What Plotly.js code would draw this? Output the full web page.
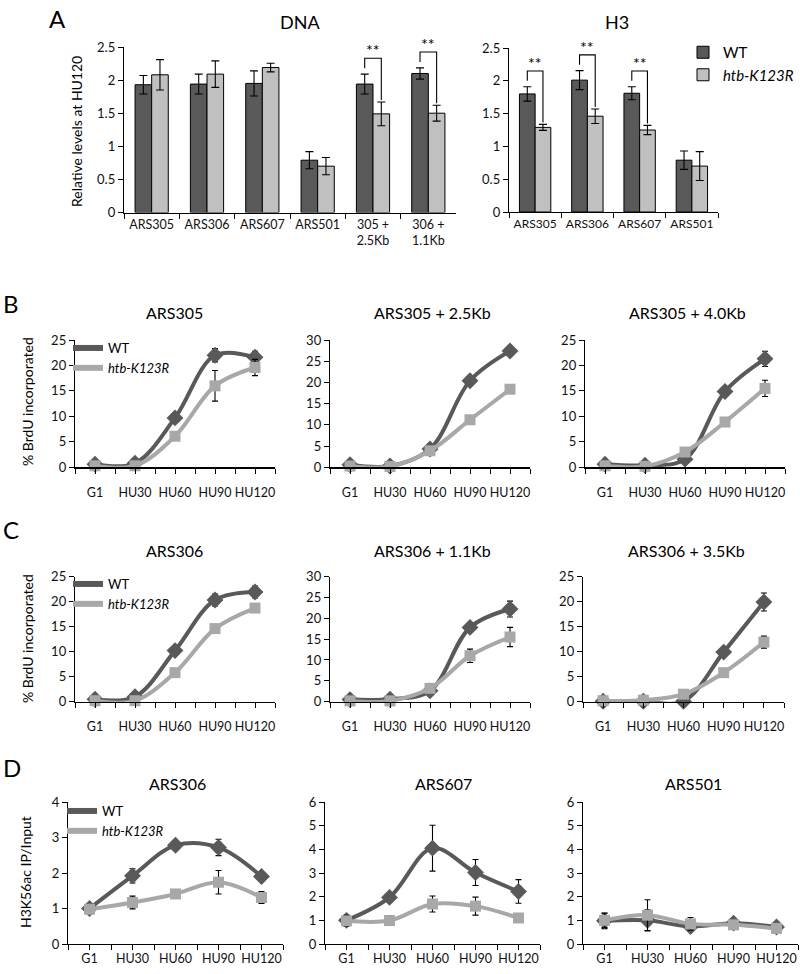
<!DOCTYPE html>
<html>
<head>
<meta charset="utf-8">
<script src="https://cdn.plot.ly/plotly-3.0.1.min.js"></script>
<style>
  html, body { margin: 0; padding: 0; background: #fff; }
  #fig { width: 800px; height: 974px; }
</style>
</head>
<body>
<div id="fig"></div>
<script>
// ---- panel A: bars at HU120 ----
const dnaSites = ["ARS305", "ARS306", "ARS607", "ARS501", "305 +<br>2.5Kb", "306 +<br>1.1Kb"];
const dnaWT = [1.93, 1.94, 1.95, 0.79, 1.94, 2.10];
const dnaWTErr = [0.14, 0.15, 0.19, 0.13, 0.15, 0.085];
const dnaK = [2.08, 2.09, 2.19, 0.70, 1.49, 1.50];
const dnaKErr = [0.23, 0.20, 0.065, 0.13, 0.18, 0.12];
const dnaSig = [4, 5];

const h3Sites = ["ARS305", "ARS306", "ARS607", "ARS501"];
const h3WT = [1.80, 2.01, 1.81, 0.79];
const h3WTErr = [0.11, 0.145, 0.10, 0.14];
const h3K = [1.29, 1.46, 1.25, 0.70];
const h3KErr = [0.045, 0.11, 0.07, 0.22];
const h3Sig = [0, 1, 2];

// ---- panels B-D: time courses ----
const timepoints = ["G1", "HU30", "HU60", "HU90", "HU120"];

const ars305WT = [0.6, 0.8, 9.7, 22.0, 21.6];
const ars305WTErr = [0.3, 0.3, 0.5, 1.3, 1.2];
const ars305K = [0.3, 0.3, 6.1, 16.0, 19.6];
const ars305KErr = [0.2, 0.2, 0.4, 3.0, 1.6];

const ars305p25WT = [0.6, 0.3, 4.3, 20.4, 27.4];
const ars305p25WTErr = [0.3, 0.2, 0.5, 0.6, 0.6];
const ars305p25K = [0.3, 0.2, 3.9, 11.2, 18.4];
const ars305p25KErr = [0.2, 0.2, 0.4, 0.5, 0.8];

const ars305p40WT = [0.6, 0.4, 1.6, 14.9, 21.3];
const ars305p40WTErr = [0.3, 0.2, 0.3, 0.6, 1.5];
const ars305p40K = [0.3, 0.2, 3.0, 8.9, 15.5];
const ars305p40KErr = [0.2, 0.2, 0.3, 0.4, 1.6];

const ars306WT = [0.5, 1.0, 10.2, 20.3, 21.9];
const ars306WTErr = [0.2, 0.3, 0.6, 1.2, 1.2];
const ars306K = [0.2, 0.2, 5.8, 14.6, 18.7];
const ars306KErr = [0.2, 0.2, 0.4, 0.5, 0.6];

const ars306p11WT = [0.5, 0.6, 2.6, 17.8, 22.2];
const ars306p11WTErr = [0.2, 0.3, 0.4, 0.6, 1.9];
const ars306p11K = [0.2, 0.2, 3.2, 11.0, 15.5];
const ars306p11KErr = [0.2, 0.2, 0.4, 1.6, 2.3];

const ars306p35WT = [0.1, 0.1, 0.1, 9.9, 19.9];
const ars306p35WTErr = [0.1, 0.1, 0.1, 0.5, 1.8];
const ars306p35K = [0.2, 0.3, 1.5, 5.8, 11.9];
const ars306p35KErr = [0.1, 0.1, 0.3, 0.4, 1.2];

const k56_306WT = [1.0, 1.92, 2.78, 2.72, 1.90];
const k56_306WTErr = [0.06, 0.2, 0.08, 0.23, 0.08];
const k56_306K = [0.98, 1.17, 1.41, 1.74, 1.31];
const k56_306KErr = [0.08, 0.18, 0.06, 0.33, 0.17];

const k56_607WT = [1.0, 1.97, 4.05, 3.02, 2.22];
const k56_607WTErr = [0.2, 0.1, 0.97, 0.55, 0.5];
const k56_607K = [0.98, 0.99, 1.69, 1.60, 1.10];
const k56_607KErr = [0.23, 0.2, 0.34, 0.38, 0.1];

const k56_501WT = [0.98, 1.0, 0.74, 0.88, 0.72];
const k56_501WTErr = [0.33, 0.45, 0.12, 0.12, 0.1];
const k56_501K = [1.0, 1.22, 0.85, 0.81, 0.66];
const k56_501KErr = [0.3, 0.65, 0.27, 0.1, 0.1];

// ---- styling ----
const W = 800, H = 974;
const FONT = "Lato, 'Open Sans', sans-serif";
const darkBar = "#595959", lightBar = "#c0c0c0";
const darkLine = "#595959", lightLine = "#a8a8a8";

function xd(a, b) { return [a / W, b / W]; }
function yd(top, bottom) { return [1 - bottom / H, 1 - top / H]; }
function px(v) { return v / W; }
function py(v) { return 1 - v / H; }

function errs(arr, w) {
  return { type: "data", array: arr, visible: true, color: "#000", thickness: 1.1, width: w };
}

const traces = [];

function barPair(ax, cats, wt, wtErr, k, kErr, legend) {
  traces.push({
    type: "bar", x: cats, y: wt, name: "WT", xaxis: "x" + ax, yaxis: "y" + ax,
    marker: { color: darkBar, line: { color: "#000", width: 1 } },
    error_y: errs(wtErr, 4), showlegend: legend, legend: "legend"
  });
  traces.push({
    type: "bar", x: cats, y: k, name: "<i>htb-K123R</i>", xaxis: "x" + ax, yaxis: "y" + ax,
    marker: { color: lightBar, line: { color: "#000", width: 1 } },
    error_y: errs(kErr, 4), showlegend: legend, legend: "legend"
  });
}

barPair("", dnaSites, dnaWT, dnaWTErr, dnaK, dnaKErr, true);
barPair("2", h3Sites, h3WT, h3WTErr, h3K, h3KErr, false);

const xs = timepoints.map((_, i) => i);
function linePair(ax, wt, wtErr, k, kErr) {
  traces.push({
    type: "scatter", mode: "lines+markers", x: xs, y: wt, xaxis: "x" + ax, yaxis: "y" + ax,
    line: { shape: "spline", smoothing: 1, color: darkLine, width: 4 },
    marker: { symbol: "diamond", size: 13, color: darkLine },
    error_y: errs(wtErr, 3), cliponaxis: false, showlegend: false
  });
  traces.push({
    type: "scatter", mode: "lines+markers", x: xs, y: k, xaxis: "x" + ax, yaxis: "y" + ax,
    line: { shape: "spline", smoothing: 1, color: lightLine, width: 4 },
    marker: { symbol: "square", size: 11, color: lightLine },
    error_y: errs(kErr, 3), cliponaxis: false, showlegend: false
  });
}
function legendLines(ax, lg) {
  [["WT", darkLine], ["<i>htb-K123R</i>", lightLine]].forEach(([n, c]) => {
    traces.push({
      type: "scatter", mode: "lines", x: [null], y: [null], name: n,
      xaxis: "x" + ax, yaxis: "y" + ax, line: { color: c, width: 6 },
      legend: lg, showlegend: true
    });
  });
}

linePair("3", ars305WT, ars305WTErr, ars305K, ars305KErr);
linePair("4", ars305p25WT, ars305p25WTErr, ars305p25K, ars305p25KErr);
linePair("5", ars305p40WT, ars305p40WTErr, ars305p40K, ars305p40KErr);
linePair("6", ars306WT, ars306WTErr, ars306K, ars306KErr);
linePair("7", ars306p11WT, ars306p11WTErr, ars306p11K, ars306p11KErr);
linePair("8", ars306p35WT, ars306p35WTErr, ars306p35K, ars306p35KErr);
linePair("9", k56_306WT, k56_306WTErr, k56_306K, k56_306KErr);
linePair("10", k56_607WT, k56_607WTErr, k56_607K, k56_607KErr);
linePair("11", k56_501WT, k56_501WTErr, k56_501K, k56_501KErr);
legendLines("3", "legend2");
legendLines("6", "legend3");
legendLines("9", "legend4");

// ---- axes ----
const layout = {
  width: W, height: H,
  margin: { l: 0, r: 0, t: 0, b: 0 },
  paper_bgcolor: "#fff", plot_bgcolor: "rgba(0,0,0,0)",
  font: { family: FONT, color: "#111", size: 13 },
  barmode: "group", bargap: 0.4, bargroupgap: 0,
  shapes: [], annotations: []
};

function barAxes(ax, dx, dy, n, fs) {
  const xk = "xaxis" + ax, yk = "yaxis" + ax;
  layout[xk] = {
    domain: dx, anchor: "y" + ax, type: "category", range: [-0.5, n - 0.5],
    showline: true, linecolor: "#000", linewidth: 1.2, ticks: "outside", ticklen: 5,
    tickcolor: "#000", tickson: "boundaries", showgrid: false, zeroline: false,
    tickangle: 0, tickfont: { size: fs }, fixedrange: true
  };
  layout[yk] = {
    domain: dy, anchor: "x" + ax, range: [0, 2.5], dtick: 0.5, tickformat: "",
    showline: true, linecolor: "#000", linewidth: 1.2, ticks: "outside", ticklen: 5,
    tickcolor: "#000", showgrid: false, zeroline: false, tickfont: { size: 13 }, fixedrange: true
  };
}
barAxes("", xd(124, 456), yd(47, 212.5), dnaSites.length, 12.5);
barAxes("2", xd(509, 718), yd(48, 212), h3Sites.length, 12);

const tv = [], tt = [];
timepoints.forEach((t, i) => { tv.push(i - 0.5, i); tt.push("", t); });
tv.push(timepoints.length - 0.5); tt.push("");

function lineAxes(ax, dx, dy, ymax, dtick, standoff) {
  layout["xaxis" + ax] = {
    domain: dx, anchor: "y" + ax, range: [-0.5, timepoints.length - 0.5],
    tickmode: "array", tickvals: tv, ticktext: tt,
    showline: true, linecolor: "#000", linewidth: 1.2, ticks: "outside", ticklen: 5,
    tickcolor: "#000", showgrid: false, zeroline: false, tickfont: { size: 12.5 },
    tickangle: 0, ticklabelstandoff: standoff, fixedrange: true
  };
  layout["yaxis" + ax] = {
    domain: dy, anchor: "x" + ax, range: [0, ymax], dtick: dtick,
    showline: true, linecolor: "#000", linewidth: 1.2, ticks: "outside", ticklen: 5,
    tickcolor: "#000", showgrid: false, zeroline: false, tickfont: { size: 13 }, fixedrange: true
  };
}
const rowB = yd(340, 467.3), rowC = yd(576.5, 701.7), rowD = yd(802, 944);
lineAxes("3", xd(75, 275), rowB, 25, 5, 8);
lineAxes("4", xd(330, 530), rowB, 30, 5, 8);
lineAxes("5", xd(585, 785), rowB, 25, 5, 8);
lineAxes("6", xd(75, 275), rowC, 25, 5, 8);
lineAxes("7", xd(330, 530), rowC, 30, 5, 8);
lineAxes("8", xd(583, 784), rowC, 25, 5, 8);
lineAxes("9", xd(68, 283), rowD, 4, 1, -2);
lineAxes("10", xd(325, 540), rowD, 6, 1, -2);
lineAxes("11", xd(583, 798), rowD, 6, 1, -2);

// ---- significance brackets ----
function brackets(ax, sig, wt, wtErr, k, kErr) {
  const xr = "x" + ax, yr = "y" + ax;
  sig.forEach(i => {
    const wtTop = wt[i] + wtErr[i], kTop = k[i] + kErr[i];
    const top = Math.min(wtTop + 0.24, 2.45), l = i - 0.15, r = i + 0.15;
    const line = { color: "#000", width: 1.1 };
    layout.shapes.push({ type: "path", xref: xr, yref: yr, line: line,
      path: `M ${l} ${wtTop + 0.09} L ${l} ${top} L ${r} ${top} L ${r} ${kTop + 0.03}` });
    layout.annotations.push({ xref: xr, yref: yr, x: i, y: top, yanchor: "bottom", yshift: -3,
      text: "**", showarrow: false, font: { size: 16, color: "#000" } });
  });
}
brackets("", dnaSig, dnaWT, dnaWTErr, dnaK, dnaKErr);
brackets("2", h3Sig, h3WT, h3WTErr, h3K, h3KErr);

// ---- titles and labels ----
function label(x, y, text, size, extra) {
  layout.annotations.push(Object.assign({
    xref: "paper", yref: "paper", x: px(x), y: py(y), text: text, showarrow: false,
    xanchor: "center", yanchor: "middle", font: { size: size, color: "#000" }
  }, extra || {}));
}
label(47, 2, "A", 24, { xanchor: "left", yanchor: "top" });
label(1, 287, "B", 24, { xanchor: "left", yanchor: "top" });
label(1, 513, "C", 24, { xanchor: "left", yanchor: "top" });
label(1, 751, "D", 24, { xanchor: "left", yanchor: "top" });

label(300, 22, "DNA", 18);
label(617, 22, "H3", 18);
label(174, 313, "ARS305", 16);
label(432, 313, "ARS305 + 2.5Kb", 16);
label(687, 313, "ARS305 + 4.0Kb", 16);
label(174, 550, "ARS306", 16);
label(432, 550, "ARS306 + 1.1Kb", 16);
label(686, 550, "ARS306 + 3.5Kb", 16);
label(177, 783, "ARS306", 16);
label(443, 783, "ARS607", 16);
label(693, 783, "ARS501", 16);

label(76, 132, "Relative levels at HU120", 14, { textangle: -90 });
label(27, 402, "% BrdU incorporated", 14, { textangle: -90 });
label(27, 639, "% BrdU incorporated", 14, { textangle: -90 });
label(25, 872, "H3K56ac IP/Input", 14, { textangle: -90 });

// ---- legends ----
const lgBase = { xanchor: "left", yanchor: "top", bgcolor: "rgba(0,0,0,0)", borderwidth: 0,
  tracegroupgap: 0, itemwidth: 30, font: { size: 13, color: "#000" } };
layout.legend = Object.assign({}, lgBase, { x: px(683), y: py(36), font: { size: 15, color: "#000" } });
layout.legend2 = Object.assign({}, lgBase, { x: px(68), y: py(333) });
layout.legend3 = Object.assign({}, lgBase, { x: px(68), y: py(569) });
layout.legend4 = Object.assign({}, lgBase, { x: px(62), y: py(796) });

Plotly.newPlot("fig", traces, layout, { displayModeBar: false, staticPlot: true });
</script>
</body>
</html>
